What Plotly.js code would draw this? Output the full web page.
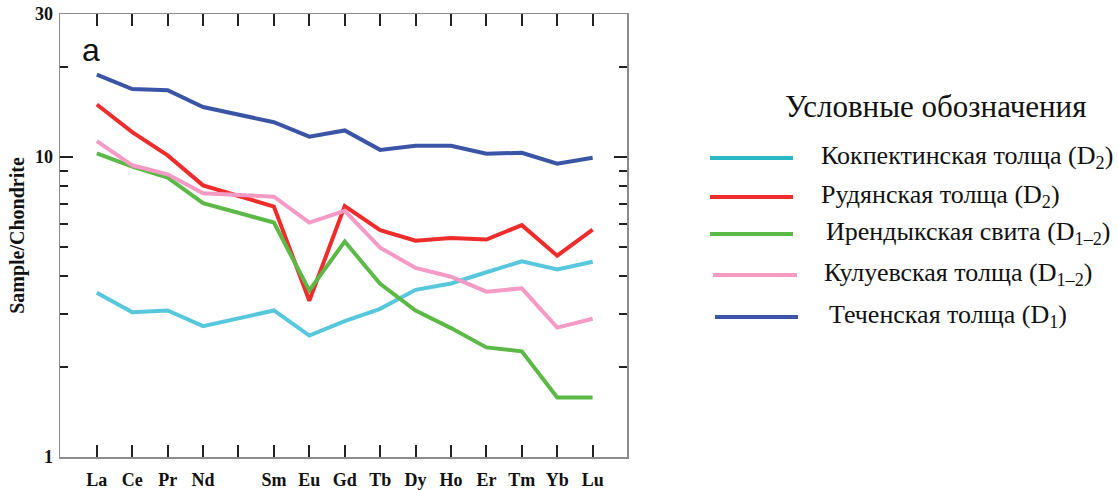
<!DOCTYPE html>
<html>
<head>
<meta charset="utf-8">
<script src="https://cdn.plot.ly/plotly-3.0.1.min.js"></script>
<style>html,body{margin:0;padding:0;background:#fff;}#chart{width:1118px;height:490px;}</style>
</head>
<body>
<div id="chart"></div>
<script>
// REE elements (Pm has no data and no label)
const elements = ['La','Ce','Pr','Nd','Pm','Sm','Eu','Gd','Tb','Dy','Ho','Er','Tm','Yb','Lu'];
const tickLabels = ['La','Ce','Pr','Nd','','Sm','Eu','Gd','Tb','Dy','Ho','Er','Tm','Yb','Lu'];

// Chondrite-normalised values
const kokpektinskaya = [3.53, 3.04, 3.08, 2.73, null, 3.08, 2.54, 2.84, 3.12, 3.61, 3.79, 4.13, 4.49, 4.22, 4.48];
const rudyanskaya    = [14.97, 12.11, 10.13, 8.05, null, 6.84, 3.32, 6.87, 5.71, 5.26, 5.37, 5.31, 5.93, 4.69, 5.73];
const irendykskaya   = [10.29, 9.29, 8.54, 7.02, null, 6.05, 3.59, 5.23, 3.78, 3.08, 2.69, 2.32, 2.25, 1.58, 1.58];
const kuluevskaya    = [11.30, 9.39, 8.76, 7.58, null, 7.38, 6.05, 6.62, 4.99, 4.27, 3.99, 3.56, 3.65, 2.70, 2.89];
const techenskaya    = [18.83, 16.86, 16.70, 14.69, null, 13.07, 11.70, 12.27, 10.57, 10.90, 10.90, 10.26, 10.34, 9.50, 9.95];

const seriesNames = [
  'Кокпектинская толща (D<sub>2</sub>)',
  'Рудянская толща (D<sub>2</sub>)',
  'Ирендыкская свита (D<sub>1–2</sub>)',
  'Кулуевская толща (D<sub>1–2</sub>)',
  'Теченская толща (D<sub>1</sub>)'
];
const seriesValues = [kokpektinskaya, rudyanskaya, irendykskaya, kuluevskaya, techenskaya];
const seriesColors = ['#57c7dc', '#ee2c2c', '#5cb947', '#f59ac4', '#3a55a5'];
const legendColors = ['#2bb8c4', '#ee2c2c', '#5cb947', '#f59ac4', '#3a55a5'];

const yTickVals = [1, 10, 30];
const yMinorVals = [2, 3, 4, 5, 6, 7, 8, 9, 20];

// layout geometry (pixels)
const W = 1118, H = 490;
const mL = 60, mR = 491, mT = 14, mB = 33;
const pw = W - mL - mR, ph = H - mT - mB;
const px = x => (x - mL) / pw;
const py = y => (H - mB - y) / ph;

const traces = seriesValues.map((vals, i) => ({
  type: 'scatter', mode: 'lines',
  x: elements, y: vals,
  connectgaps: true,
  line: {color: seriesColors[i], width: 4},
  name: seriesNames[i],
  showlegend: false,
  hoverinfo: 'x+y'
}));

// manual legend placement
const legLineY = [158, 197, 234, 275, 317];
const legLineX0 = [710, 710, 710, 713, 715];
const legLineX1 = [793, 793, 793, 797, 798];
const legTextX = [819, 819, 824, 822, 827];

const shapes = seriesNames.map((n, i) => ({
  type: 'line', xref: 'paper', yref: 'paper',
  x0: px(legLineX0[i]), x1: px(legLineX1[i]),
  y0: py(legLineY[i]), y1: py(legLineY[i]),
  line: {color: legendColors[i], width: 4}
}));

const annotations = seriesNames.map((n, i) => ({
  xref: 'paper', yref: 'paper',
  x: px(legTextX[i]), y: py(legLineY[i] - 1),
  xanchor: 'left', yanchor: 'middle',
  text: n, showarrow: false,
  font: {family: 'Liberation Serif, Times New Roman, serif', size: 26, color: '#111'}
}));
annotations.push({
  xref: 'paper', yref: 'paper', x: px(935), y: py(106),
  xanchor: 'center', yanchor: 'middle',
  text: 'Условные обозначения', showarrow: false,
  font: {family: 'Liberation Serif, Times New Roman, serif', size: 31, color: '#111'}
});
annotations.push({
  xref: 'paper', yref: 'paper', x: px(91), y: py(50),
  xanchor: 'center', yanchor: 'middle',
  text: 'a', showarrow: false,
  font: {family: 'Liberation Sans, Arial, sans-serif', size: 32, color: '#111'}
});

const tickFont = {family: 'Liberation Serif, Times New Roman, serif', size: 18, color: '#111', weight: 'bold'};

const layout = {
  width: W, height: H,
  margin: {l: mL, r: mR, t: mT, b: mB, pad: 0},
  paper_bgcolor: '#ffffff', plot_bgcolor: '#ffffff',
  showlegend: false,
  xaxis: {
    type: 'category',
    range: [-1.04, 14.97],
    tickvals: elements, ticktext: tickLabels,
    ticks: 'inside', ticklen: 12, tickwidth: 2, tickcolor: '#222',
    showline: true, linecolor: '#8c8c8c', linewidth: 1.5, mirror: 'ticks',
    showgrid: false, zeroline: false,
    tickfont: tickFont, ticklabelstandoff: 6
  },
  yaxis: {
    type: 'log',
    range: [0, Math.log10(30)],
    tickvals: yTickVals, ticktext: yTickVals.map(String),
    ticks: 'inside', ticklen: 13, tickwidth: 2, tickcolor: '#222',
    minor: {tickvals: yMinorVals, ticks: 'inside', ticklen: 8, tickwidth: 2, tickcolor: '#222', showgrid: false},
    showline: true, linecolor: '#8c8c8c', linewidth: 1.5, mirror: 'ticks',
    showgrid: false, zeroline: false,
    tickfont: tickFont, ticklabelstandoff: 2,
    title: {text: 'Sample/Chondrite', standoff: 5,
      font: {family: 'Liberation Serif, Times New Roman, serif', size: 20, color: '#111', weight: 'bold'}},
    automargin: false
  },
  shapes: shapes,
  annotations: annotations
};

Plotly.newPlot('chart', traces, layout, {displayModeBar: false, staticPlot: true});
</script>
</body>
</html>
